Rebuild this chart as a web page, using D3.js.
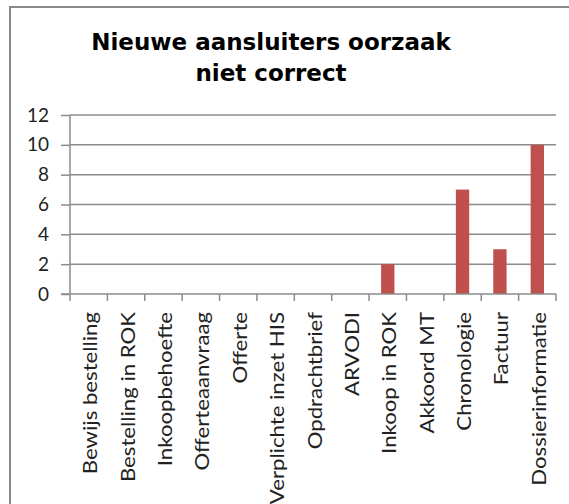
<!DOCTYPE html>
<html>
<head>
<meta charset="utf-8">
<script src="https://cdn.jsdelivr.net/npm/d3@7"></script>
<style>
  body { margin: 0; background: #fff; }
  svg { display: block; }
</style>
</head>
<body>
<div id="chart"></div>
<script>
var categories = ["Bewijs bestelling", "Bestelling in ROK", "Inkoopbehoefte", "Offerteaanvraag",
    "Offerte", "Verplichte inzet HIS", "Opdrachtbrief", "ARVODI", "Inkoop in ROK",
    "Akkoord MT", "Chronologie", "Factuur", "Dossierinformatie"];
var values = [0, 0, 0, 0, 0, 0, 0, 0, 2, 0, 7, 3, 10];
var yTicks = [0, 2, 4, 6, 8, 10, 12];
var titleLines = ["Nieuwe aansluiters oorzaak", "niet correct"];

var WIDTH = 569, HEIGHT = 504;
var LEFT = 70, RIGHT = 556, TOP = 115, BOTTOM = 294;
var GRID = "#8c8c8c", BAR = "#c0504d";

var svg = d3.select("#chart").append("svg")
    .attr("width", WIDTH)
    .attr("height", HEIGHT);

// chart border
svg.append("rect")
    .attr("x", 10).attr("y", 7)
    .attr("width", 580).attr("height", 520)
    .attr("fill", "none")
    .attr("stroke", "#8a8a8a")
    .attr("stroke-width", 2);

svg.append("text")
    .attr("x", 271)
    .attr("y", 50)
    .attr("text-anchor", "middle")
    .style("font-family", "'DejaVu Sans', Verdana, sans-serif")
    .style("font-weight", "bold")
    .style("font-size", "23px")
    .attr("fill", "#000")
    .selectAll("tspan")
    .data(titleLines)
    .enter().append("tspan")
    .attr("x", 271)
    .attr("dy", function(d, i){ return i == 0 ? 0 : 31; })
    .text(function(d){ return d; });

var x = d3.scaleBand().domain(categories).range([LEFT, RIGHT]).padding(0);
var y = d3.scaleLinear().domain([0, 12]).range([BOTTOM, TOP]);

// gridlines
svg.append("g").selectAll("line")
    .data(yTicks.filter(function(d){ return d > 0; }))
    .enter().append("line")
    .attr("x1", LEFT).attr("x2", RIGHT)
    .attr("y1", function(d){ return y(d); })
    .attr("y2", function(d){ return y(d); })
    .attr("stroke", GRID)
    .attr("stroke-width", 1.5);

// bars
var barW = x.bandwidth() * 0.357;
svg.append("g").selectAll("rect")
    .data(values)
    .enter().append("rect")
    .attr("x", function(d, i){ return x(categories[i]) + (x.bandwidth() - barW) / 2; })
    .attr("y", function(d){ return y(d); })
    .attr("width", barW)
    .attr("height", function(d){ return y(0) - y(d); })
    .attr("fill", BAR);

// y axis
var yAxis = d3.axisLeft(y).tickValues(yTicks).tickSize(9).tickPadding(12);
var yG = svg.append("g")
    .attr("transform", "translate(" + LEFT + ",0)")
    .call(yAxis);
yG.select(".domain").remove();
yG.append("line")
    .attr("x1", 0).attr("x2", 0)
    .attr("y1", TOP).attr("y2", BOTTOM)
    .attr("stroke", GRID).attr("stroke-width", 1.5);
yG.selectAll(".tick line").attr("stroke", GRID).attr("stroke-width", 1.5);
yG.selectAll(".tick text")
    .style("font-family", "Lato, 'Open Sans', sans-serif")
    .style("font-size", "19px")
    .attr("fill", "#222");

// x axis: ticks on category boundaries
var xG = svg.append("g").attr("transform", "translate(0," + BOTTOM + ")");
xG.append("line")
    .attr("x1", LEFT - 9).attr("x2", RIGHT)
    .attr("stroke", GRID).attr("stroke-width", 1.5);
var bounds = categories.map(function(c){ return x(c); }).concat([RIGHT]);
xG.selectAll("line.tk")
    .data(bounds)
    .enter().append("line")
    .attr("class", "tk")
    .attr("x1", function(d){ return d; })
    .attr("x2", function(d){ return d; })
    .attr("y1", 0).attr("y2", 7)
    .attr("stroke", GRID).attr("stroke-width", 1.5);

// labels are a little stretched along their length, like the original
xG.selectAll("text")
    .data(categories)
    .enter().append("text")
    .attr("transform", function(d){
        return "translate(" + (x(d) + x.bandwidth() / 2) + ",18) rotate(-90) scale(1.11,1)";
    })
    .attr("text-anchor", "end")
    .attr("dy", 8.5)
    .style("font-family", "Lato, 'Open Sans', sans-serif")
    .style("font-size", "20px")
    .attr("fill", "#222")
    .text(function(d){ return d; });
</script>
</body>
</html>
